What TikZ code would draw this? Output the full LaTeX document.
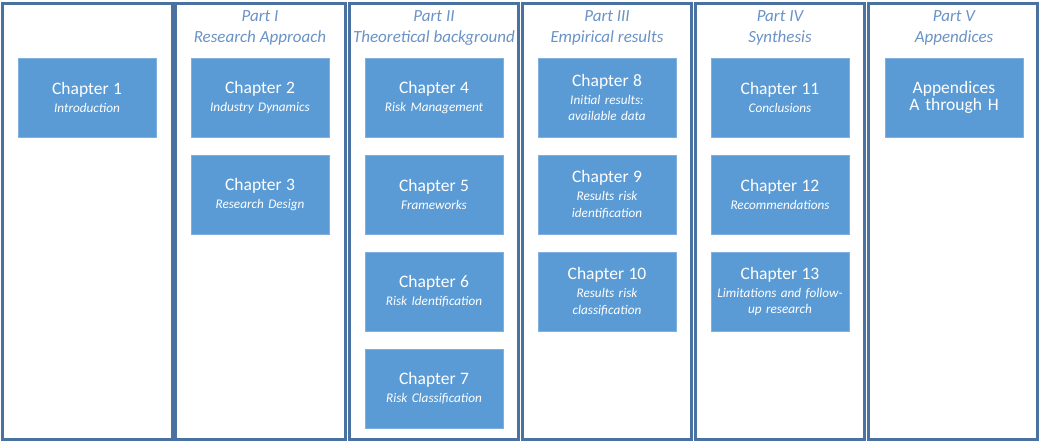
\documentclass[tikz,border=0pt]{standalone}
\usepackage{fontspec}
\setmainfont{Carlito}
\definecolor{frame}{HTML}{4A72A0}
\definecolor{boxfill}{HTML}{5B9BD5}
\definecolor{boxline}{HTML}{7FB0DF}
\definecolor{titlec}{HTML}{6A93C6}
\tikzset{
  colbox/.style={draw=frame, line width=3pt},
  chap/.style={fill=boxfill, draw=boxline, line width=0.6pt, minimum width=138pt, minimum height=79pt, text width=136pt, align=center, text=white, inner sep=0pt, font=\fontsize{13.2}{16.5}\selectfont},
  parttitle/.style={text=titlec, align=center, font=\fontsize{17}{21}\selectfont\itshape, inner sep=0pt},
}
\newcommand{\chaptxt}[2]{{\fontsize{17.5}{19}\selectfont #1}\\[1.5pt]{\itshape #2}}
\begin{document}
\begin{tikzpicture}[x=1pt,y=-1pt]
\useasboundingbox[fill=white] (0,0) rectangle (1043,446);
% columns
\foreach \i in {0,...,5}{
  \draw[colbox] ({173.1*\i+2.8},3.5) rectangle ({173.1*(\i+1)-0.8},439);
}
% part titles
\node[parttitle] (p1) at (260,28) {Part I\\Research Approach};
\node[parttitle] (p2) at (434,28) {Part II\\Theoretical background};
\node[parttitle] (p3) at (607,28) {Part III\\Empirical results};
\node[parttitle] (p4) at (780,28) {Part IV\\Synthesis};
\node[parttitle] (p5) at (954,28) {Part V\\Appendices};
% chapters
\node[chap] (c1) at (87,97.5) {\chaptxt{Chapter 1}{Introduction}};
\node[chap] (c2) at (260,97.5) {\chaptxt{Chapter 2}{Industry Dynamics}};
\node[chap] (c3) at (260,194.5) {\chaptxt{Chapter 3}{Research Design}};
\node[chap] (c4) at (434,97.5) {\chaptxt{Chapter 4}{Risk Management}};
\node[chap] (c5) at (434,194.5) {\chaptxt{Chapter 5}{Frameworks}};
\node[chap] (c6) at (434,291.5) {\chaptxt{Chapter 6}{Risk Identification}};
\node[chap] (c7) at (434,388.5) {\chaptxt{Chapter 7}{Risk Classification}};
\node[chap] (c8) at (607,97.5) {\chaptxt{Chapter 8}{Initial results:}\\{\itshape available data}};
\node[chap] (c9) at (607,194.5) {\chaptxt{Chapter 9}{Results risk}\\{\itshape identification}};
\node[chap] (c10) at (607,291.5) {\chaptxt{Chapter 10}{Results risk}\\{\itshape classification}};
\node[chap] (c11) at (780,97.5) {\chaptxt{Chapter 11}{Conclusions}};
\node[chap] (c12) at (780,194.5) {\chaptxt{Chapter 12}{Recommendations}};
\node[chap] (c13) at (780,291.5) {\chaptxt{Chapter 13}{Limitations and follow-}\\{\itshape up research}};
\node[chap, font=\fontsize{17.5}{17.5}\selectfont] (app) at (954,97.5) {Appendices\\A through H};
\end{tikzpicture}
\end{document}
